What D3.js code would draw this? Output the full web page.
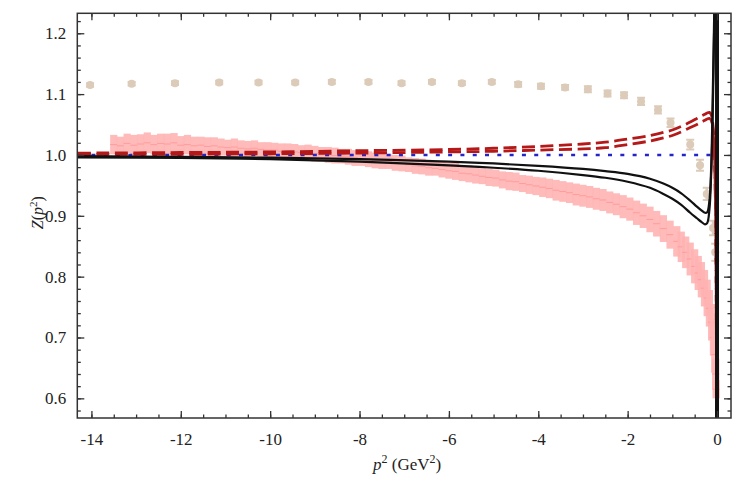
<!DOCTYPE html>
<html>
<head>
<meta charset="UTF-8">
<title>Z(p2)</title>
<script src="https://d3js.org/d3.v7.min.js"></script>
<style>
  body {margin: 0; background: white;}
  .frame {fill: none; stroke: #333; stroke-width: 1.5;}
  .axis path {display: none;}
  .axis line {stroke: #333; stroke-width: 1.3;}
</style>
</head>
<body>
<div id="chart"></div>
<script>
// lattice points (tan)
var tanP2  = [-14.03, -13.10, -12.13, -11.14, -10.26, -9.44, -8.62, -7.80, -7.06, -6.38, -5.71, -5.04, -4.45, -3.94, -3.40, -2.89, -2.45, -2.08, -1.70, -1.32, -1.04, -0.60, -0.38, -0.23, -0.09, -0.04];
var tanZ   = [1.115, 1.117, 1.118, 1.119, 1.119, 1.119, 1.120, 1.120, 1.118, 1.120, 1.118, 1.120, 1.116, 1.113, 1.111, 1.108, 1.101, 1.098, 1.088, 1.074, 1.053, 1.017, 0.983, 0.936, 0.880, 0.840];
var tanErr = [0.003, 0.003, 0.003, 0.003, 0.003, 0.003, 0.003, 0.003, 0.003, 0.003, 0.003, 0.003, 0.004, 0.004, 0.004, 0.005, 0.005, 0.005, 0.006, 0.006, 0.007, 0.008, 0.009, 0.010, 0.012, 0.014];

// lattice points (pink)
var pinkP2 = [-13.5, -13.35, -13.2, -13.05, -12.9, -12.75, -12.6, -12.45, -12.3, -12.15, -12.0, -11.85, -11.7, -11.55, -11.4, -11.25, -11.1, -10.95, -10.8, -10.65,
              -10.5, -10.35, -10.2, -10.05, -9.9, -9.75, -9.6, -9.45, -9.3, -9.15, -9.0, -8.85, -8.7, -8.55, -8.4, -8.25, -8.1, -7.95, -7.8, -7.65,
              -7.5, -7.35, -7.2, -7.05, -6.9, -6.75, -6.6, -6.45, -6.3, -6.15, -6.0, -5.85, -5.7, -5.55, -5.4, -5.25, -5.1, -4.95, -4.8, -4.65,
              -4.5, -4.35, -4.2, -4.05, -3.9, -3.75, -3.6, -3.45, -3.3, -3.15, -3.0, -2.85, -2.7, -2.55, -2.4, -2.25, -2.1, -1.95, -1.8, -1.65,
              -1.5, -1.35, -1.2, -1.05, -0.9, -0.8, -0.7, -0.6, -0.5, -0.42, -0.35, -0.28, -0.22, -0.17, -0.12, -0.08, -0.05, -0.03, -0.02];
var pinkZ  = [1.017, 1.015, 1.019, 1.016, 1.018, 1.020, 1.017, 1.019, 1.018, 1.020, 1.016, 1.017, 1.015, 1.016, 1.014, 1.015, 1.013, 1.012, 1.013, 1.011,
              1.010, 1.011, 1.009, 1.008, 1.008, 1.006, 1.007, 1.005, 1.004, 1.004, 1.002, 1.001, 1.000, 0.999, 0.998, 0.997, 0.995, 0.994, 0.993, 0.991,
              0.990, 0.989, 0.987, 0.986, 0.984, 0.982, 0.981, 0.979, 0.978, 0.976, 0.974, 0.973, 0.970, 0.969, 0.967, 0.965, 0.963, 0.962, 0.959, 0.957,
              0.956, 0.953, 0.951, 0.949, 0.947, 0.945, 0.942, 0.940, 0.938, 0.935, 0.933, 0.931, 0.928, 0.926, 0.922, 0.919, 0.915, 0.911, 0.905, 0.900,
              0.894, 0.887, 0.879, 0.869, 0.858, 0.849, 0.840, 0.829, 0.817, 0.806, 0.795, 0.781, 0.765, 0.748, 0.725, 0.700, 0.672, 0.640, 0.615];
var pinkErr = [0.016, 0.015, 0.016, 0.017, 0.016, 0.017, 0.016, 0.016, 0.017, 0.016, 0.015, 0.016, 0.015, 0.014, 0.015, 0.014, 0.014, 0.013, 0.014, 0.013,
               0.013, 0.013, 0.012, 0.013, 0.012, 0.013, 0.012, 0.013, 0.012, 0.013, 0.013, 0.012, 0.013, 0.013, 0.012, 0.013, 0.013, 0.012, 0.013, 0.013,
               0.013, 0.012, 0.013, 0.013, 0.012, 0.013, 0.013, 0.013, 0.012, 0.013, 0.013, 0.014, 0.013, 0.014, 0.014, 0.013, 0.014, 0.014, 0.014, 0.015,
               0.015, 0.014, 0.015, 0.015, 0.016, 0.016, 0.017, 0.017, 0.017, 0.018, 0.018, 0.018, 0.018, 0.018, 0.018, 0.018, 0.019, 0.019, 0.020, 0.020,
               0.021, 0.021, 0.022, 0.023, 0.025, 0.025, 0.026, 0.027, 0.028, 0.028, 0.029, 0.030, 0.030, 0.030, 0.030, 0.030, 0.030, 0.025, 0.015];

// model curves on a common p2 grid
var curveP2 = [-14.3, -12, -10, -8, -6, -5, -4, -3, -2.5, -2, -1.5, -1.2, -1.0, -0.8, -0.6, -0.45, -0.35, -0.27, -0.22, -0.17, -0.13, -0.1, -0.07, -0.04, -0.02, -0.005];
var blackUp  = [0.998, 0.997, 0.9955, 0.993, 0.989, 0.986, 0.982, 0.977, 0.9735, 0.969, 0.961, 0.953, 0.946, 0.937, 0.925, 0.915, 0.909, 0.905, 0.906, 0.925, 0.980, 1.080, 1.200, 1.350, 1.500, 2.000];
var blackLow = [0.996, 0.995, 0.993, 0.989, 0.983, 0.979, 0.974, 0.967, 0.9625, 0.956, 0.946, 0.936, 0.928, 0.918, 0.905, 0.896, 0.890, 0.886, 0.888, 0.910, 0.970, 1.050, 1.180, 1.330, 1.500, 2.000];
var redUp    = [1.003, 1.004, 1.005, 1.007, 1.009, 1.011, 1.014, 1.018, 1.021, 1.026, 1.032, 1.037, 1.041, 1.047, 1.054, 1.060, 1.064, 1.067, 1.069, 1.070, 1.066, 1.055, 1.030, 0.950, 0.800, 0.500];
var redLow   = [1.001, 1.001, 1.002, 1.003, 1.005, 1.006, 1.008, 1.010, 1.012, 1.017, 1.023, 1.028, 1.032, 1.038, 1.045, 1.050, 1.054, 1.057, 1.059, 1.060, 1.057, 1.046, 1.020, 0.940, 0.790, 0.500];
var freeP2 = [-14.0, 0.0];
var freeZ  = [1.0, 1.0];
var poleP2 = 0;

var xTicks = [-14, -12, -10, -8, -6, -4, -2, 0];
var yTicks = [0.6, 0.7, 0.8, 0.9, 1.0, 1.1, 1.2];

var serif = "Liberation Serif";

var margin = {top: 13.3, right: 4, bottom: 65, left: 77.3},
    width = 735 - margin.left - margin.right,
    height = 483 - margin.top - margin.bottom;

var x = d3.scaleLinear().domain([-14.316, 0.313]).range([0, width]);
var y = d3.scaleLinear().domain([0.5677, 1.2328]).range([height, 0]);

var svg = d3.select("#chart").append("svg")
    .attr("width", 735)
    .attr("height", 483)
    .append("g")
    .attr("transform", "translate(" + margin.left + "," + margin.top + ")");

svg.append("clipPath").attr("id", "clip")
    .append("rect").attr("width", width).attr("height", height);

var plot = svg.append("g").attr("clip-path", "url(#clip)");

function errorPoints(px, pz, perr, color, r, cap, solid) {
  var g = plot.append("g").attr("stroke", color).attr("fill", color);
  px.forEach(function(d, i) {
    var cx = x(d), y0 = y(pz[i] - perr[i]), y1 = y(pz[i] + perr[i]);
    if (solid) {
      // dense data: bar from -err to +err
      g.append("rect").attr("x", cx - cap).attr("y", y1).attr("width", 2 * cap).attr("height", y0 - y1)
          .attr("stroke", "none").attr("fill-opacity", 0.9);
      g.append("line").attr("x1", cx - cap).attr("x2", cx + cap).attr("y1", y(pz[i])).attr("y2", y(pz[i]))
          .attr("stroke", "#ff9c9c").attr("stroke-width", 1);
      return;
    }
    g.append("line").attr("x1", cx).attr("x2", cx).attr("y1", y0).attr("y2", y1).attr("stroke-width", 2.5);
    g.append("line").attr("x1", cx - cap).attr("x2", cx + cap).attr("y1", y0).attr("y2", y0).attr("stroke-width", 2);
    g.append("line").attr("x1", cx - cap).attr("x2", cx + cap).attr("y1", y1).attr("y2", y1).attr("stroke-width", 2);
    g.append("circle").attr("cx", cx).attr("cy", y(pz[i])).attr("r", r).attr("stroke", "none");
  });
}

errorPoints(tanP2, tanZ, tanErr, "#dccbb8", 4, 4, false);
errorPoints(pinkP2, pinkZ, pinkErr, "#ffb3b3", 3, 3.6, true);

var line = d3.line()
    .x(function(d) {return x(d[0]);})
    .y(function(d) {return y(d[1]);})
    .curve(d3.curveCatmullRom.alpha(0.5));

function zip(a, b) {return a.map(function(d, i) {return [d, b[i]];});}

plot.append("path").datum(zip(freeP2, freeZ)).attr("d", line)
    .attr("fill", "none").attr("stroke", "#2424c8").attr("stroke-width", 2.5)
    .attr("stroke-dasharray", "4,8.3");

[redUp, redLow].forEach(function(c) {
  plot.append("path").datum(zip(curveP2, c)).attr("d", line)
      .attr("fill", "none").attr("stroke", "#b41818").attr("stroke-width", 2.8)
      .attr("stroke-dasharray", "13,5.5");
});

[blackUp, blackLow].forEach(function(c) {
  plot.append("path").datum(zip(curveP2, c)).attr("d", line)
      .attr("fill", "none").attr("stroke", "#111").attr("stroke-width", 2.2);
});

// pole at p2 = 0
plot.append("line")
    .attr("x1", x(poleP2)).attr("x2", x(poleP2))
    .attr("y1", 0).attr("y2", height)
    .attr("stroke", "#111").attr("stroke-width", 4);

// axes, ticks inward on all sides
var minorX = d3.range(-14, 0.31, 0.5), minorY = d3.range(0.58, 1.23, 0.02);
var noLabel = function() {return "";};

svg.append("g").attr("class", "axis").attr("transform", "translate(0," + height + ")")
    .call(d3.axisBottom(x).tickValues(minorX).tickSize(-3.5).tickFormat(noLabel));
svg.append("g").attr("class", "axis").attr("transform", "translate(0," + height + ")")
    .call(d3.axisBottom(x).tickValues(xTicks).tickSize(-7).tickPadding(15).tickFormat(function(d) {return String(d);}));
svg.append("g").attr("class", "axis")
    .call(d3.axisTop(x).tickValues(minorX).tickSize(-3.5).tickFormat(noLabel));
svg.append("g").attr("class", "axis")
    .call(d3.axisTop(x).tickValues(xTicks).tickSize(-7).tickFormat(noLabel));

svg.append("g").attr("class", "axis")
    .call(d3.axisLeft(y).tickValues(minorY).tickSize(-3.5).tickFormat(noLabel));
svg.append("g").attr("class", "axis")
    .call(d3.axisLeft(y).tickValues(yTicks).tickSize(-7).tickPadding(11).tickFormat(d3.format(".1f")));
svg.append("g").attr("class", "axis").attr("transform", "translate(" + width + ",0)")
    .call(d3.axisRight(y).tickValues(minorY).tickSize(-3.5).tickFormat(noLabel));
svg.append("g").attr("class", "axis").attr("transform", "translate(" + width + ",0)")
    .call(d3.axisRight(y).tickValues(yTicks).tickSize(-7).tickFormat(noLabel));

svg.selectAll(".axis text")
    .attr("font-family", serif).attr("font-size", 17).attr("fill", "#222");

svg.append("rect").attr("class", "frame").attr("width", width).attr("height", height);

// axis titles
var xl = svg.append("text")
    .attr("x", width / 2 + 3).attr("y", height + 52)
    .attr("text-anchor", "middle").attr("font-family", serif).attr("font-size", 17).attr("fill", "#222");
xl.append("tspan").attr("font-style", "italic").text("p");
xl.append("tspan").attr("dy", -7).attr("font-size", 12).text("2");
xl.append("tspan").attr("dy", 7).text(" (GeV");
xl.append("tspan").attr("dy", -7).attr("font-size", 12).text("2");
xl.append("tspan").attr("dy", 7).text(")");

var yl = svg.append("text")
    .attr("transform", "translate(-34," + (height / 2 - 3) + ") rotate(-90)")
    .attr("text-anchor", "middle").attr("font-family", serif).attr("font-size", 16).attr("fill", "#222");
yl.append("tspan").attr("font-style", "italic").text("Z");
yl.append("tspan").text("(");
yl.append("tspan").attr("font-style", "italic").text("p");
yl.append("tspan").attr("dy", -6).attr("font-size", 11).text("2");
yl.append("tspan").attr("dy", 6).text(")");
</script>
</body>
</html>
